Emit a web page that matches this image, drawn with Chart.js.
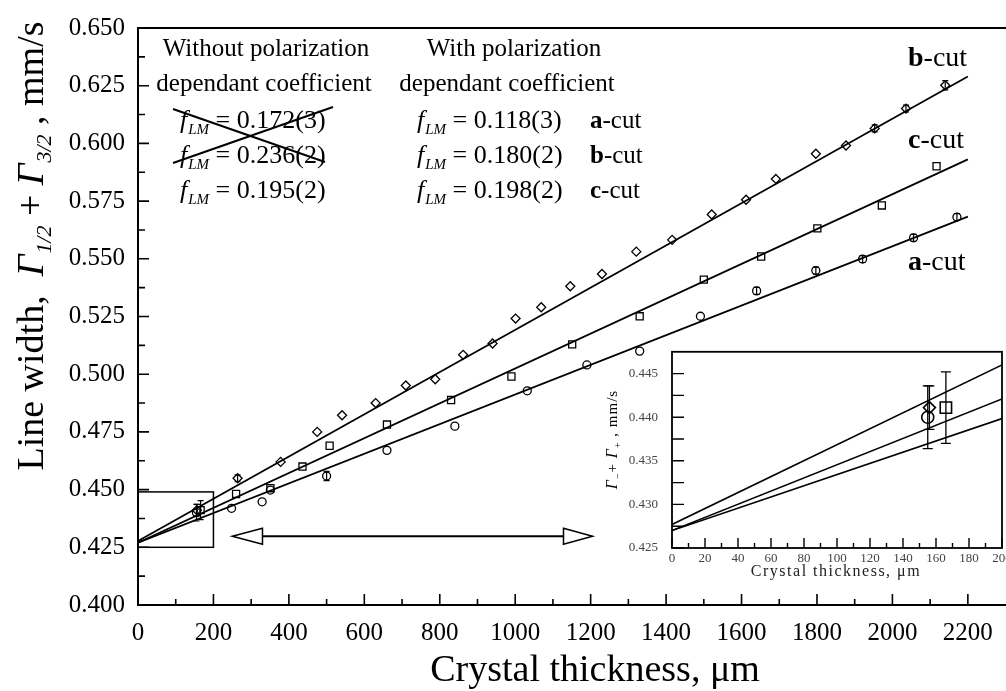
<!DOCTYPE html>
<html>
<head>
<meta charset="utf-8">
<script src="https://cdn.jsdelivr.net/npm/chart.js@4.4.1/dist/chart.umd.min.js"></script>
<style>
  html, body { margin: 0; padding: 0; background: #fff; }
  #wrap { position: relative; width: 1006px; height: 691px; overflow: hidden; background: #fff; }
  #main { position: absolute; left: 0; top: 0; }
  #inset { position: absolute; left: 590px; top: 330px; }
</style>
</head>
<body>
<div id="wrap">
  <canvas id="main" width="1006" height="691" style="width:1006px;height:691px"></canvas>
  <canvas id="inset" width="440" height="280" style="width:440px;height:280px"></canvas>
</div>
<script>
const SERIF = "'Liberation Serif', 'DejaVu Serif', serif";

// b-cut, diamonds
const bThick = [156, 264, 378, 475, 541, 630, 710, 788, 862, 940, 1001, 1069, 1146, 1230, 1321, 1416, 1521, 1612, 1691, 1797, 1877, 1953, 2036, 2140];
const bWidth = [0.4411, 0.4549, 0.4620, 0.4750, 0.4822, 0.4875, 0.4951, 0.4978, 0.5084, 0.5133, 0.5241, 0.5290, 0.5381, 0.5434, 0.5531, 0.5582, 0.5692, 0.5756, 0.5846, 0.5955, 0.5991, 0.6065, 0.6151, 0.6252];
const bErr   = [0.0025, 0.0015, 0, 0, 0, 0, 0, 0, 0, 0, 0, 0, 0, 0, 0, 0, 0, 0, 0, 0, 0, 0.0015, 0.0015, 0.002];

// c-cut, squares
const cThick = [166, 260, 351, 436, 508, 660, 830, 990, 1151, 1330, 1500, 1652, 1801, 1972, 2117];
const cWidth = [0.4411, 0.4481, 0.4506, 0.4600, 0.4690, 0.4782, 0.4888, 0.4990, 0.5129, 0.5251, 0.5410, 0.5510, 0.5632, 0.5731, 0.5901];
const cErr   = [0.0041, 0, 0, 0, 0, 0, 0, 0, 0, 0, 0, 0, 0, 0, 0];

// a-cut, circles
const aThick = [155, 248, 329, 351, 500, 660, 840, 1032, 1190, 1330, 1491, 1640, 1797, 1921, 2056, 2171];
const aWidth = [0.4400, 0.4419, 0.4447, 0.4498, 0.4559, 0.4670, 0.4775, 0.4928, 0.5040, 0.5100, 0.5251, 0.5361, 0.5449, 0.5499, 0.5591, 0.5681];
const aErr   = [0.0036, 0, 0, 0, 0.002, 0, 0, 0, 0, 0, 0, 0.0015, 0.0015, 0.0015, 0.0015, 0.0015];

// linear fits (a, b, c)
const fitIntercept = [0.4270, 0.4277, 0.4270];
const fitSlope     = [6.42e-5, 9.15e-5, 7.55e-5];

// tick labels
const xTickLabels = [0, 200, 400, 600, 800, 1000, 1200, 1400, 1600, 1800, 2000, 2200];
const xMinorTicks = [100, 300, 500, 700, 900, 1100, 1300, 1500, 1700, 1900, 2100];
const yTickLabels = [0.400, 0.425, 0.450, 0.475, 0.500, 0.525, 0.550, 0.575, 0.600, 0.625, 0.650];
const yMinorTicks = [0.4125, 0.4375, 0.4625, 0.4875, 0.5125, 0.5375, 0.5625, 0.5875, 0.6125, 0.6375];

const insetXTicks = [0, 20, 40, 60, 80, 100, 120, 140, 160, 180, 200];
const insetXMinor = [10, 30, 50, 70, 90, 110, 130, 150, 170, 190];
const insetYTicks = [0.425, 0.430, 0.435, 0.440, 0.445];
const insetYMinor = [0.4275, 0.4325, 0.4375, 0.4425];

// zoom box and arrow, in data units
const zoomBox = { x0: 0, x1: 200, y0: 0.425, y1: 0.449 };
const arrow = { tipL: 250, baseL: 330, baseR: 1128, tipR: 1205, y: 0.4298 };

function pts(xs, ys) { return xs.map((x, i) => ({ x: x, y: ys[i] })); }
function fitLine(k, x0, x1) {
  return [{ x: x0, y: fitIntercept[k] + fitSlope[k] * x0 }, { x: x1, y: fitIntercept[k] + fitSlope[k] * x1 }];
}
function lineSet(data, w) {
  return { data: data, showLine: true, borderColor: '#000', borderWidth: w, pointRadius: 0, fill: false };
}
function markSet(data, style, r, err, bw) {
  return { data: data, showLine: false, pointStyle: style, pointRadius: r, pointBorderWidth: bw,
           pointBorderColor: '#000', pointBackgroundColor: 'rgba(0,0,0,0)', err: err };
}

function richWidth(ctx, parts) {
  let w = 0;
  parts.forEach(p => { ctx.font = p.font; w += ctx.measureText(p.t).width + (p.gap || 0); });
  return w;
}
function drawRich(ctx, parts, x, y, angle) {
  ctx.save();
  ctx.translate(x, y);
  if (angle) ctx.rotate(angle);
  ctx.textAlign = 'left';
  ctx.textBaseline = 'alphabetic';
  ctx.fillStyle = '#000';
  let cx = 0;
  parts.forEach(p => {
    ctx.font = p.font;
    ctx.fillText(p.t, cx, p.dy || 0);
    cx += ctx.measureText(p.t).width + (p.gap || 0);
  });
  ctx.restore();
}

function drawTickMarks(chart, o) {
  const { ctx, chartArea: a, scales: { x, y } } = chart;
  ctx.save();
  ctx.strokeStyle = '#000';
  ctx.lineWidth = o.w;
  ctx.beginPath();
  o.xMajor.forEach(v => { const p = x.getPixelForValue(v); ctx.moveTo(p, a.bottom); ctx.lineTo(p, a.bottom - o.xMajLen); });
  o.xMinor.forEach(v => { const p = x.getPixelForValue(v); ctx.moveTo(p, a.bottom); ctx.lineTo(p, a.bottom - o.xMinLen); });
  o.yMajor.forEach(v => { const p = y.getPixelForValue(v); ctx.moveTo(a.left, p); ctx.lineTo(a.left + o.yMajLen, p); });
  o.yMinor.forEach(v => { const p = y.getPixelForValue(v); ctx.moveTo(a.left, p); ctx.lineTo(a.left + o.yMinLen, p); });
  ctx.stroke();
  ctx.restore();
}

// vertical error bars for datasets that carry an err array
const errorBars = {
  id: 'errorBars',
  afterDatasetsDraw(chart, args, opts) {
    const { ctx, scales: { x, y } } = chart;
    ctx.save();
    ctx.strokeStyle = '#000';
    ctx.lineWidth = opts.w || 1.2;
    chart.data.datasets.forEach(ds => {
      if (!ds.err) return;
      ds.data.forEach((p, i) => {
        const e = ds.err[i];
        if (!e) return;
        const px = x.getPixelForValue(p.x);
        const top = y.getPixelForValue(p.y + e), bot = y.getPixelForValue(p.y - e);
        const c = opts.cap || 3;
        ctx.beginPath();
        ctx.moveTo(px, top); ctx.lineTo(px, bot);
        ctx.moveTo(px - c, top); ctx.lineTo(px + c, top);
        ctx.moveTo(px - c, bot); ctx.lineTo(px + c, bot);
        ctx.stroke();
      });
    });
    ctx.restore();
  }
};

const mainDecor = {
  id: 'mainDecor',
  afterDraw(chart) {
    const { ctx, chartArea: a, scales: { x, y } } = chart;
    const W = chart.width;
    ctx.save();
    ctx.strokeStyle = '#000';
    ctx.lineWidth = 2;
    ctx.beginPath();
    ctx.moveTo(a.left, a.top); ctx.lineTo(a.left, a.bottom + 1);
    ctx.moveTo(a.left - 1, a.bottom); ctx.lineTo(W, a.bottom);
    ctx.moveTo(a.left - 1, a.top); ctx.lineTo(W, a.top);
    ctx.stroke();
    ctx.restore();

    drawTickMarks(chart, { w: 1.6, xMajor: xTickLabels, xMinor: xMinorTicks, yMajor: yTickLabels, yMinor: yMinorTicks,
                           xMajLen: 11, xMinLen: 6, yMajLen: 11, yMinLen: 7 });

    // zoom box
    ctx.save();
    ctx.strokeStyle = '#000';
    ctx.lineWidth = 1.5;
    const bx0 = x.getPixelForValue(zoomBox.x0), bx1 = x.getPixelForValue(zoomBox.x1);
    const by0 = y.getPixelForValue(zoomBox.y0), by1 = y.getPixelForValue(zoomBox.y1);
    ctx.strokeRect(bx0, by1, bx1 - bx0, by0 - by1);

    // double arrow
    const ay = y.getPixelForValue(arrow.y);
    const tl = x.getPixelForValue(arrow.tipL), bl = x.getPixelForValue(arrow.baseL);
    const br = x.getPixelForValue(arrow.baseR), tr = x.getPixelForValue(arrow.tipR);
    ctx.lineWidth = 2;
    ctx.beginPath(); ctx.moveTo(bl, ay); ctx.lineTo(br, ay); ctx.stroke();
    ctx.lineWidth = 1.5;
    ctx.fillStyle = '#fff';
    ctx.beginPath(); ctx.moveTo(tl, ay); ctx.lineTo(bl, ay - 8); ctx.lineTo(bl, ay + 8); ctx.closePath(); ctx.fill(); ctx.stroke();
    ctx.beginPath(); ctx.moveTo(tr, ay); ctx.lineTo(br, ay - 8); ctx.lineTo(br, ay + 8); ctx.closePath(); ctx.fill(); ctx.stroke();
    ctx.restore();

    // annotation block
    ctx.save();
    ctx.fillStyle = '#000';
    ctx.textBaseline = 'alphabetic';
    ctx.textAlign = 'center';
    ctx.font = '25px ' + SERIF;
    ctx.fillText('Without polarization', 266, 56);
    ctx.fillText('dependant coefficient', 264, 91);
    ctx.fillText('With polarization', 514, 56);
    ctx.fillText('dependant coefficient', 507, 91);
    ctx.restore();

    const f = (val) => [
      { t: 'f', font: 'italic 26px ' + SERIF, gap: 1 },
      { t: 'LM', font: 'italic 15px ' + SERIF, dy: 6 },
      { t: ' = ' + val, font: '26px ' + SERIF }
    ];
    drawRich(ctx, f('0.172(3)'), 180, 128);
    drawRich(ctx, f('0.236(2)'), 180, 163);
    drawRich(ctx, f('0.195(2)'), 180, 198);
    drawRich(ctx, f('0.118(3)'), 417, 128);
    drawRich(ctx, f('0.180(2)'), 417, 163);
    drawRich(ctx, f('0.198(2)'), 417, 198);

    const cut = (c, size) => [
      { t: c, font: 'bold ' + size + 'px ' + SERIF },
      { t: '-cut', font: size + 'px ' + SERIF }
    ];
    drawRich(ctx, cut('a', 25), 590, 128);
    drawRich(ctx, cut('b', 25), 590, 163);
    drawRich(ctx, cut('c', 25), 590, 198);
    drawRich(ctx, cut('b', 28), 908, 66);
    drawRich(ctx, cut('c', 28), 908, 148);
    drawRich(ctx, cut('a', 28), 908, 270);

    // crossed out values
    ctx.save();
    ctx.strokeStyle = '#000';
    ctx.lineWidth = 2;
    ctx.beginPath();
    ctx.moveTo(173, 109); ctx.lineTo(325, 162);
    ctx.moveTo(173, 163); ctx.lineTo(333, 107);
    ctx.stroke();
    ctx.restore();

    // axis titles
    ctx.save();
    ctx.fillStyle = '#000';
    ctx.textAlign = 'center';
    ctx.textBaseline = 'alphabetic';
    ctx.font = '38px ' + SERIF;
    ctx.fillText('Crystal thickness, \u03bcm', 595, 681);
    ctx.restore();

    const yt = [
      { t: 'Line width,  ', font: '38px ' + SERIF },
      { t: '\u0393', font: 'italic 38px ' + SERIF, gap: 1 },
      { t: '1/2', font: 'italic 22px ' + SERIF, dy: 8 },
      { t: ' + ', font: '38px ' + SERIF },
      { t: '\u0393', font: 'italic 38px ' + SERIF, gap: 1 },
      { t: '3/2', font: 'italic 22px ' + SERIF, dy: 8 },
      { t: ' , mm/s', font: '38px ' + SERIF }
    ];
    const yw = richWidth(ctx, yt);
    drawRich(ctx, yt, 43, 246 + yw / 2, -Math.PI / 2);
  }
};

const mainChart = new Chart(document.getElementById('main'), {
  type: 'scatter',
  data: {
    datasets: [
      lineSet(fitLine(0, 0, 2200), 1.8),
      lineSet(fitLine(1, 0, 2200), 1.8),
      lineSet(fitLine(2, 0, 2200), 1.8),
      markSet(pts(bThick, bWidth), 'rectRot', 4.5, bErr, 1.3),
      markSet(pts(cThick, cWidth), 'rect', 5, cErr, 1.3),
      markSet(pts(aThick, aWidth), 'circle', 4, aErr, 1.3)
    ]
  },
  options: {
    responsive: false,
    animation: false,
    events: [],
    layout: { padding: { top: 24, right: 5, left: 0, bottom: 0 } },
    plugins: { legend: { display: false }, tooltip: { enabled: false }, errorBars: { w: 1.2, cap: 3 } },
    scales: {
      x: {
        type: 'linear', min: 0, max: 2250,
        grid: { display: false, drawTicks: false }, border: { display: false },
        afterFit: s => { s.height = 86; },
        afterBuildTicks: s => { s.ticks = xTickLabels.map(v => ({ value: v })); },
        ticks: { font: { family: SERIF, size: 25 }, color: '#000', padding: 13, maxRotation: 0, autoSkip: false,
                 callback: v => String(v) }
      },
      y: {
        type: 'linear', min: 0.4, max: 0.65,
        grid: { display: false, drawTicks: false }, border: { display: false },
        afterFit: s => { s.width = 138; },
        afterBuildTicks: s => { s.ticks = yTickLabels.map(v => ({ value: v })); },
        ticks: { font: { family: SERIF, size: 25 }, color: '#000', padding: 13, autoSkip: false,
                 callback: v => v.toFixed(3) }
      }
    }
  },
  plugins: [errorBars, mainDecor]
});

// inset
const insetDecor = {
  id: 'insetDecor',
  beforeDraw(chart) {
    const { ctx, chartArea: a } = chart;
    ctx.save();
    ctx.fillStyle = '#fff';
    ctx.fillRect(a.left, a.top, a.right - a.left, a.bottom - a.top);
    ctx.restore();
  },
  afterDraw(chart) {
    const { ctx, chartArea: a } = chart;
    ctx.save();
    ctx.strokeStyle = '#000';
    ctx.lineWidth = 1.8;
    ctx.strokeRect(a.left, a.top, a.right - a.left, a.bottom - a.top);
    ctx.restore();
    drawTickMarks(chart, { w: 1.4, xMajor: insetXTicks, xMinor: insetXMinor, yMajor: insetYTicks, yMinor: insetYMinor,
                           xMajLen: 10, xMinLen: 5, yMajLen: 12, yMinLen: 12 });

    ctx.save();
    ctx.fillStyle = '#222';
    ctx.textAlign = 'center';
    ctx.textBaseline = 'alphabetic';
    ctx.font = '16px ' + SERIF;
    ctx.letterSpacing = '1.5px';
    ctx.fillText('Crystal thickness, \u03bcm', 246, 246);
    ctx.restore();

    const yt = [
      { t: '\u0393', font: 'italic 16px ' + SERIF },
      { t: '\u2212', font: '10px ' + SERIF, dy: 4 },
      { t: '+ ', font: '15px ' + SERIF },
      { t: '\u0393', font: 'italic 16px ' + SERIF },
      { t: '+', font: '10px ' + SERIF, dy: 4 },
      { t: ' , mm/s', font: '15px ' + SERIF }
    ];
    const yw = richWidth(ctx, yt);
    ctx.save();
    ctx.letterSpacing = '1px';
    drawRich(ctx, yt, 27, 116 + yw / 2, -Math.PI / 2);
    ctx.restore();
  }
};

const insetChart = new Chart(document.getElementById('inset'), {
  type: 'scatter',
  data: {
    datasets: [
      lineSet(fitLine(0, 0, 200), 1.6),
      lineSet(fitLine(1, 0, 200), 1.6),
      lineSet(fitLine(2, 0, 200), 1.6),
      markSet(pts(bThick.slice(0, 1), bWidth.slice(0, 1)), 'rectRot', 6, bErr.slice(0, 1), 1.6),
      markSet(pts(cThick.slice(0, 1), cWidth.slice(0, 1)), 'rect', 8, cErr.slice(0, 1), 1.6),
      markSet(pts(aThick.slice(0, 1), aWidth.slice(0, 1)), 'circle', 6, aErr.slice(0, 1), 1.6)
    ]
  },
  options: {
    responsive: false,
    animation: false,
    events: [],
    layout: { padding: { top: 14, right: 28, left: 0, bottom: 0 } },
    plugins: { legend: { display: false }, tooltip: { enabled: false }, errorBars: { w: 1.3, cap: 5 } },
    scales: {
      x: {
        type: 'linear', min: 0, max: 200,
        grid: { display: false, drawTicks: false }, border: { display: false },
        afterFit: s => { s.height = 62; },
        afterBuildTicks: s => { s.ticks = insetXTicks.map(v => ({ value: v })); },
        ticks: { font: { family: SERIF, size: 13 }, color: '#444', padding: 3, maxRotation: 0, autoSkip: false,
                 callback: v => String(v) }
      },
      y: {
        type: 'linear', min: 0.425, max: 0.4475,
        grid: { display: false, drawTicks: false }, border: { display: false },
        afterFit: s => { s.width = 82; },
        afterBuildTicks: s => { s.ticks = insetYTicks.map(v => ({ value: v })); },
        ticks: { font: { family: SERIF, size: 13 }, color: '#444', padding: 14, autoSkip: false,
                 callback: v => v.toFixed(3) }
      }
    }
  },
  plugins: [errorBars, insetDecor]
});
</script>
</body>
</html>
